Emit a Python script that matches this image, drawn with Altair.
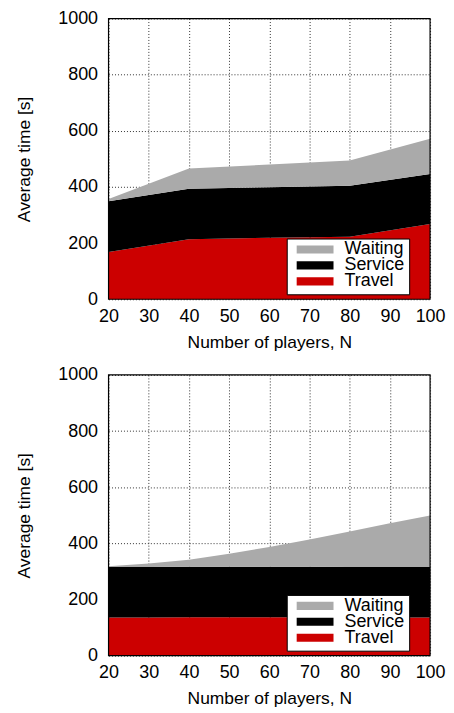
import altair as alt
import pandas as pd

categories = ["Travel", "Service", "Waiting"]
legend_order = ["Waiting", "Service", "Travel"]
legend_colors = ["#aaaaaa", "#000000", "#cc0000"]

x_ticks = [20, 30, 40, 50, 60, 70, 80, 90, 100]
y_ticks = [0, 200, 400, 600, 800, 1000]

# top panel
N1 = [20, 40, 60, 80, 100]
travel1 = [168, 214, 219, 223, 268]
service1 = [181, 180, 180, 181, 178]
waiting1 = [8, 72, 81, 90, 126]

# bottom panel
N2 = [20, 30, 40, 50, 60, 70, 80, 90, 100]
travel2 = [136, 136, 137, 137, 137, 137, 136, 136, 136]
service2 = [180, 180, 180, 180, 180, 180, 180, 180, 180]
waiting2 = [2, 12, 25, 46, 70, 97, 126, 156, 183]

FONT = "Liberation Sans"
W, H = 323, 282


def make_df(N, t, s, w):
    rows = []
    for i, n in enumerate(N):
        for k, (cat, vals) in enumerate(zip(categories, [t, s, w])):
            rows.append({"N": n, "cat": cat, "value": vals[i], "ord": k})
    return pd.DataFrame(rows)


def panel(df):
    area = alt.Chart(df).mark_area(interpolate="linear").encode(
        x=alt.X("N:Q", scale=alt.Scale(domain=[20, 100], nice=False, zero=False),
                axis=alt.Axis(values=x_ticks, title="Number of players, N",
                              labelPadding=8, titlePadding=8, format="d",
                              labelFlush=False, labelOverlap=False)),
        y=alt.Y("value:Q", stack="zero", scale=alt.Scale(domain=[0, 1000], nice=False),
                axis=alt.Axis(values=y_ticks, title="Average time [s]", format="d",
                              labelPadding=11, titlePadding=24, labelFlush=False)),
        color=alt.Color("cat:N", scale=alt.Scale(domain=legend_order, range=legend_colors),
                        legend=alt.Legend(orient="none", legendX=179, legendY=221,
                                          title=None, fillColor="white", strokeColor="black",
                                          padding=4, rowPadding=-3, clipHeight=14,
                                          labelFontSize=18, labelFont=FONT, labelOffset=11,
                                          symbolOffset=6,
                                          labelExpr="datum.label + '\u00a0\u00a0\u00a0'",
                                          symbolType="M-1,-0.22H1V0.22H-1Z",
                                          symbolSize=1369, symbolStrokeWidth=0,
                                          symbolOpacity=1)),
        order=alt.Order("ord:Q", sort="ascending"),
    )
    frame = alt.Chart(pd.DataFrame({"a": [0]})).mark_rect(
        filled=False, stroke="black", strokeWidth=1.2
    ).encode(x=alt.value(0), x2=alt.value(W), y=alt.value(0), y2=alt.value(H))
    return alt.layer(area, frame).properties(width=W, height=H)


p1 = panel(make_df(N1, travel1, service1, waiting1))
p2 = panel(make_df(N2, travel2, service2, waiting2))

chart = alt.vconcat(p1, p2, spacing=15).resolve_scale(color="independent").resolve_legend(
    color="independent"
).properties(
    padding={"left": 7, "top": 0, "right": 0, "bottom": 0}
).configure_view(stroke=None).configure_axis(
    labelFont=FONT, titleFont=FONT, labelFontSize=18, titleFontSize=17.5,
    titleFontWeight="normal", labelColor="black", titleColor="black",
    ticks=False, domain=False, grid=True, gridColor="#333333", gridDash=[1, 2],
    gridWidth=1, gridOpacity=1,
)

chart.save("out.html", embed_options={"renderer": "svg", "actions": False})
